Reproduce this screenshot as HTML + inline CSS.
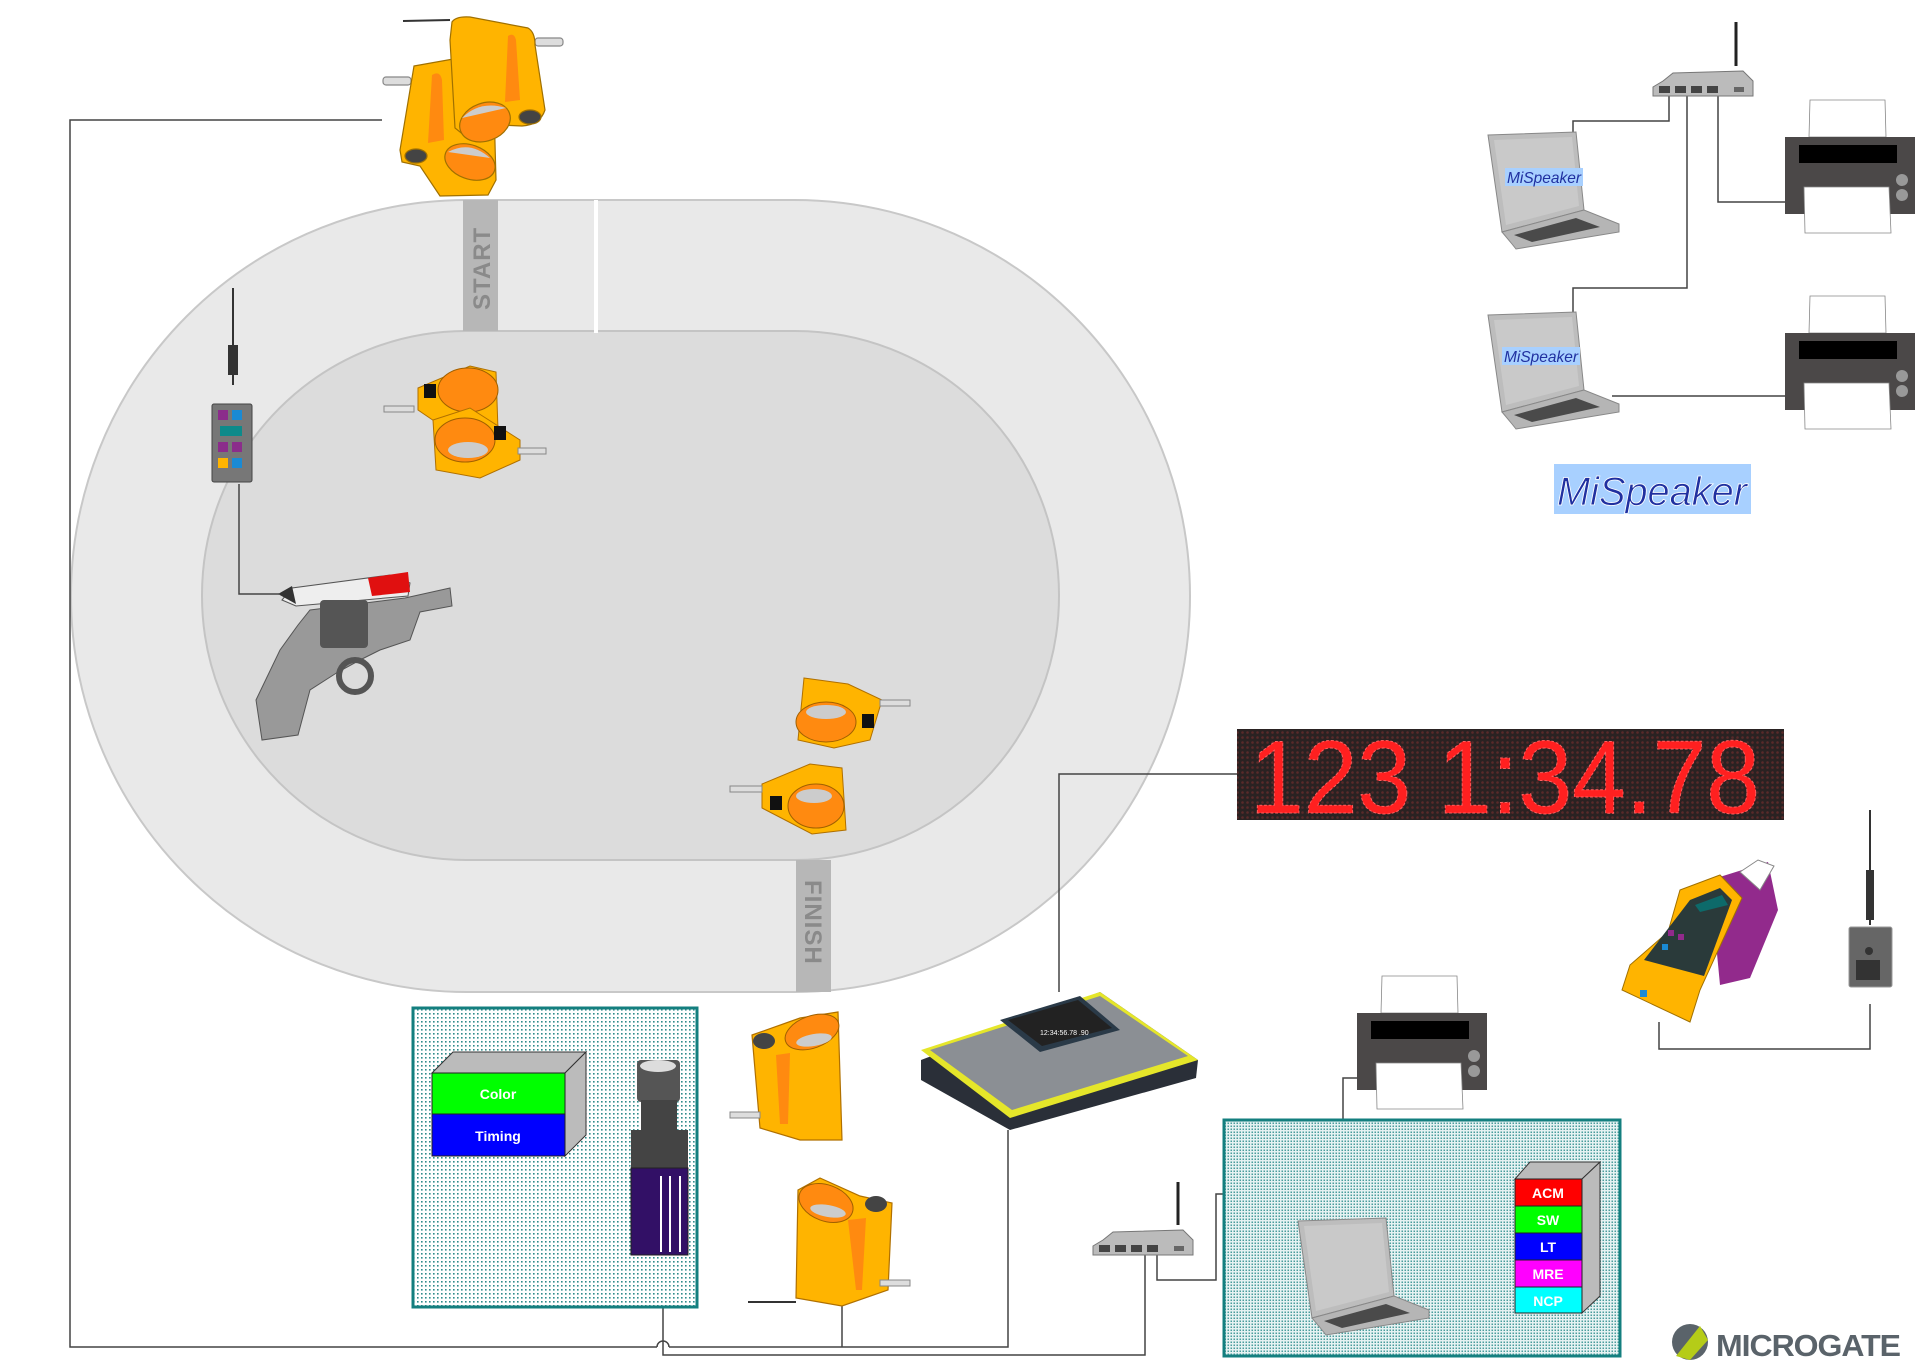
<!DOCTYPE html>
<html><head><meta charset="utf-8"><style>
html,body{margin:0;padding:0;background:#fff;}
svg{display:block;}
text{font-family:"Liberation Sans",sans-serif;}
</style></head><body>
<svg width="1920" height="1363" viewBox="0 0 1920 1363" xmlns="http://www.w3.org/2000/svg">
<defs>
<pattern id="dots" width="4" height="4" patternUnits="userSpaceOnUse">
<rect width="4" height="4" fill="#fff"/><rect x="1" y="1" width="1.6" height="1.6" fill="#2e8b8b"/>
</pattern>
<pattern id="dots2" width="3" height="3" patternUnits="userSpaceOnUse">
<rect width="3" height="3" fill="#e6f2f2"/><rect x="0.5" y="0.5" width="1.5" height="1.5" fill="#4a9c9c"/>
</pattern>
<pattern id="led" width="5" height="5" patternUnits="userSpaceOnUse">
<rect width="5" height="5" fill="#2a2222"/><circle cx="2.5" cy="2.5" r="1.3" fill="#5a2a2a"/>
</pattern>
<g id="laptop">
<polygon points="0,3 88,0 96,78 14,100" fill="#bdbdbd" stroke="#888" stroke-width="1"/>
<polygon points="6,8 84,5 91,74 18,93" fill="#c9c9c9"/>
<polygon points="14,100 96,78 131,92 131,100 28,117 24,112" fill="#b5b5b5" stroke="#888" stroke-width="1"/>
<polygon points="26,103 88,86 112,95 44,110" fill="#4a4a4a"/>
</g>
<g id="printer">
<polygon points="25,0 100,0 101,37 24,37" fill="#fff" stroke="#888" stroke-width="0.8"/>
<rect x="0" y="37" width="130" height="77" fill="#4b4848"/>
<rect x="14" y="45" width="98" height="18" fill="#000"/>
<polygon points="19,87 104,87 106,133 20,133" fill="#fff" stroke="#888" stroke-width="0.8"/>
<circle cx="117" cy="80" r="6" fill="#999"/><circle cx="117" cy="95" r="6" fill="#999"/>
</g>
<g id="router">
<polygon points="10,16 20,8 90,6 100,16 100,31 0,31 0,22" fill="#bbb" stroke="#777" stroke-width="1"/>
<rect x="6" y="21" width="11" height="7" fill="#444"/><rect x="22" y="21" width="11" height="7" fill="#444"/>
<rect x="38" y="21" width="11" height="7" fill="#444"/><rect x="54" y="21" width="11" height="7" fill="#444"/>
<rect x="81" y="22" width="10" height="5" fill="#666"/>
</g>
</defs>

<!-- track -->
<rect x="71" y="200" width="1119" height="792" rx="396" fill="#e9e9e9" stroke="#c8c8c8" stroke-width="2"/>
<rect x="202" y="331" width="857" height="529" rx="264" fill="#dcdcdc" stroke="#c4c4c4" stroke-width="2"/>
<rect x="463" y="200" width="35" height="131" fill="#b7b7b7"/>
<text transform="translate(490,310) rotate(-90)" font-size="24" font-weight="bold" fill="#8a8a8a" letter-spacing="1">START</text>
<rect x="594" y="200" width="4" height="133" fill="#fff"/>
<rect x="796" y="860" width="35" height="132" fill="#b7b7b7"/>
<text transform="translate(805,880) rotate(90)" font-size="24" font-weight="bold" fill="#8a8a8a" letter-spacing="1">FINISH</text>

<!-- connection lines -->
<g fill="none" stroke="#444" stroke-width="1.5">
<polyline points="382,120 70,120 70,1347 657,1347"/>
<path d="M657,1347 a6,6 0 0 1 12,0"/>
<polyline points="669,1347 1008,1347 1008,1130"/>
<polyline points="663,1255 663,1355 1145,1355 1145,1255"/>
<polyline points="842,1305 842,1347"/>
<polyline points="1237,774 1059,774 1059,992"/>
<polyline points="239,484 239,594 279,594"/>
<polyline points="1157,1255 1157,1280 1216,1280 1216,1194 1316,1194 1316,1218"/>
<polyline points="1343,1218 1343,1078 1357,1078"/>
<polyline points="1659,1022 1659,1049 1870,1049 1870,1004"/>
<polyline points="1669,96 1669,121 1573,121 1573,135"/>
<polyline points="1687,96 1687,288 1573,288 1573,312"/>
<polyline points="1718,96 1718,202 1785,202"/>
<polyline points="1612,396 1785,396"/>
</g>

<!-- top photocells -->
<g stroke="#a07000" stroke-width="1.2">
<line x1="403" y1="21" x2="450" y2="20" stroke="#333" stroke-width="2"/>
<rect x="383" y="77" width="28" height="8" rx="3" fill="#ddd" stroke="#888"/>
<rect x="535" y="38" width="28" height="8" rx="3" fill="#ddd" stroke="#888"/>
<path d="M414,66 L470,56 L493,70 L496,180 L488,195 L440,196 L420,166 L402,162 L400,150 Z" fill="#ffb400"/>
<path d="M432,75 Q440,70 442,80 L444,140 L428,143 Z" fill="#ff8a10" stroke="none"/>
<ellipse cx="416" cy="156" rx="11" ry="7" fill="#444"/>
<ellipse cx="470" cy="162" rx="26" ry="17" fill="#ff8a10" transform="rotate(20 470 162)"/>
<path d="M448,152 Q470,140 490,158" fill="#ccc" stroke="none"/>
<path d="M452,22 Q456,16 470,17 L528,28 Q535,32 535,45 L545,110 Q540,125 522,126 L500,125 L470,140 L455,128 L450,40 Z" fill="#ffb400"/>
<path d="M508,36 Q514,32 516,40 L520,100 L505,102 Z" fill="#ff8a10" stroke="none"/>
<ellipse cx="530" cy="117" rx="11" ry="7" fill="#444"/>
<ellipse cx="485" cy="122" rx="26" ry="19" fill="#ff8a10" transform="rotate(-20 485 122)"/>
<path d="M462,118 Q480,100 506,108" fill="#ccc" stroke="none"/>
</g>

<!-- inner photocells -->
<g>
<polygon points="418,388 470,366 496,372 498,430 462,440 418,410" fill="#ffb400" stroke="#b07000"/>
<ellipse cx="468" cy="390" rx="30" ry="22" fill="#ff8a10" stroke="#a06000"/>
<polygon points="433,420 470,408 520,440 520,460 480,478 436,470" fill="#ffb400" stroke="#b07000"/>
<ellipse cx="465" cy="440" rx="30" ry="22" fill="#ff8a10" stroke="#a06000"/>
<ellipse cx="468" cy="450" rx="20" ry="8" fill="#ccc"/>
<rect x="424" y="384" width="12" height="14" fill="#111"/><rect x="494" y="426" width="12" height="14" fill="#111"/>
<rect x="384" y="406" width="30" height="6" fill="#ddd" stroke="#888"/><rect x="518" y="448" width="28" height="6" fill="#ddd" stroke="#888"/>
</g>
<!-- right inner photocells -->
<g>
<polygon points="804,678 848,684 882,700 870,740 834,748 798,740" fill="#ffb400" stroke="#b07000"/>
<ellipse cx="826" cy="722" rx="30" ry="20" fill="#ff8a10" stroke="#a06000"/>
<ellipse cx="826" cy="712" rx="20" ry="7" fill="#ccc"/>
<rect x="862" y="714" width="12" height="14" fill="#111"/>
<rect x="880" y="700" width="30" height="6" fill="#ddd" stroke="#888"/>
<polygon points="762,784 810,764 842,768 846,830 812,834 762,808" fill="#ffb400" stroke="#b07000"/>
<ellipse cx="816" cy="806" rx="28" ry="22" fill="#ff8a10" stroke="#a06000"/>
<ellipse cx="814" cy="796" rx="18" ry="7" fill="#ccc"/>
<rect x="770" y="796" width="12" height="14" fill="#111"/>
<rect x="730" y="786" width="32" height="6" fill="#ddd" stroke="#888"/>
</g>

<!-- radio transmitter -->
<line x1="233" y1="288" x2="233" y2="385" stroke="#333" stroke-width="2"/>
<rect x="228" y="345" width="10" height="30" fill="#333"/>
<rect x="212" y="404" width="40" height="78" rx="2" fill="#777" stroke="#444"/>
<rect x="218" y="410" width="10" height="10" fill="#8b2d8b"/><rect x="232" y="410" width="10" height="10" fill="#1a8ad4"/>
<rect x="220" y="426" width="22" height="10" fill="#0e8a8a"/>
<rect x="218" y="442" width="10" height="10" fill="#8b2d8b"/><rect x="232" y="442" width="10" height="10" fill="#8b2d8b"/>
<rect x="218" y="458" width="10" height="10" fill="#ffb400"/><rect x="232" y="458" width="10" height="10" fill="#1a8ad4"/>

<!-- gun -->
<g>
<polygon points="282,600 292,588 390,575 410,583 408,596 296,606" fill="#eee" stroke="#555"/>
<polygon points="368,578 408,572 410,592 372,596" fill="#e01010"/>
<polygon points="278,594 292,586 296,604" fill="#333"/>
<polygon points="310,610 405,598 450,588 452,606 420,612 410,640 380,650 360,660 338,672 310,690 298,735 262,740 256,700 280,650 298,625" fill="#999" stroke="#555"/>
<rect x="320" y="600" width="48" height="48" rx="4" fill="#555"/>
<circle cx="355" cy="676" r="16" fill="none" stroke="#555" stroke-width="6"/>
</g>

<!-- bottom photocells -->
<g>
<polygon points="752,1035 800,1018 838,1012 842,1140 800,1140 760,1128" fill="#ffb400" stroke="#b07000" stroke-width="1.2"/>
<ellipse cx="812" cy="1032" rx="28" ry="16" fill="#ff8a10" stroke="#a06000" transform="rotate(-20 812 1032)"/>
<ellipse cx="814" cy="1040" rx="18" ry="6" fill="#ccc" transform="rotate(-10 814 1040)"/>
<ellipse cx="764" cy="1041" rx="11" ry="8" fill="#444"/>
<path d="M776,1055 L790,1053 L788,1124 L780,1124 Z" fill="#ff8a10"/>
<rect x="730" y="1112" width="30" height="6" fill="#ddd" stroke="#888"/>
<polygon points="798,1190 820,1178 860,1196 892,1203 888,1290 842,1306 796,1298" fill="#ffb400" stroke="#b07000" stroke-width="1.2"/>
<ellipse cx="826" cy="1203" rx="28" ry="18" fill="#ff8a10" stroke="#a06000" transform="rotate(20 826 1203)"/>
<ellipse cx="828" cy="1211" rx="18" ry="6" fill="#ccc" transform="rotate(10 828 1211)"/>
<ellipse cx="876" cy="1204" rx="11" ry="8" fill="#444"/>
<path d="M848,1220 L866,1218 L862,1290 L856,1290 Z" fill="#ff8a10"/>
<rect x="880" y="1280" width="30" height="6" fill="#ddd" stroke="#888"/>
<line x1="748" y1="1302" x2="796" y2="1302" stroke="#333" stroke-width="2"/>
</g>

<!-- camera box -->
<rect x="413" y="1008" width="284" height="299" fill="url(#dots)" stroke="#147f7f" stroke-width="3"/>
<polygon points="432,1073 453,1052 586,1052 565,1073" fill="#bbb" stroke="#333"/>
<polygon points="565,1073 586,1052 586,1135 565,1156" fill="#bbb" stroke="#333"/>
<rect x="432" y="1073" width="133" height="41" fill="#00ff00" stroke="#222"/>
<rect x="432" y="1114" width="133" height="42" fill="#0000ff" stroke="#222"/>
<text x="498" y="1099" font-size="14" font-weight="bold" fill="#fff" text-anchor="middle">Color</text>
<text x="498" y="1141" font-size="14" font-weight="bold" fill="#fff" text-anchor="middle">Timing</text>
<rect x="637" y="1060" width="43" height="42" rx="4" fill="#555"/>
<ellipse cx="658" cy="1066" rx="18" ry="6" fill="#ddd"/>
<rect x="641" y="1100" width="36" height="40" fill="#444"/>
<rect x="631" y="1130" width="57" height="38" fill="#444"/>
<rect x="631" y="1168" width="57" height="87" fill="#321066" stroke="#222"/>
<line x1="661" y1="1176" x2="661" y2="1252" stroke="#fff" stroke-width="2"/>
<line x1="670" y1="1176" x2="670" y2="1252" stroke="#fff" stroke-width="2"/>
<line x1="680" y1="1176" x2="680" y2="1252" stroke="#fff" stroke-width="2"/>

<!-- console -->
<g>
<polygon points="921,1060 1100,992 1198,1060 1196,1078 1010,1130 921,1080" fill="#2a2f38"/>
<polygon points="921,1050 1100,992 1198,1060 1010,1118" fill="#e5e62a"/>
<polygon points="930,1050 1100,996 1188,1056 1012,1110" fill="#8b8f94"/>
<polygon points="1000,1020 1080,996 1120,1030 1040,1052" fill="#2a3a48"/>
<polygon points="1008,1020 1078,1000 1112,1028 1042,1046" fill="#222"/>
<text x="1040" y="1035" font-size="7" fill="#fff">12:34:56.78 .90</text>
</g>

<!-- display -->
<rect x="1237" y="729" width="547" height="91" fill="url(#led)"/>
<text x="1250" y="813" font-size="104" fill="#ff2020" font-family="Liberation Sans Narrow, Liberation Sans, sans-serif" textLength="510" lengthAdjust="spacingAndGlyphs" stroke="#ff6060" stroke-width="1" stroke-dasharray="3 2">123  1:34.78</text>

<!-- handheld -->
<g>
<polygon points="1710,880 1768,862 1778,910 1750,978 1720,985" fill="#922a8c"/>
<polygon points="1740,872 1758,860 1774,866 1760,890" fill="#fff" stroke="#888"/>
<polygon points="1680,890 1720,875 1742,898 1700,990 1690,1022 1622,990 1630,965 1668,932" fill="#ffb400" stroke="#a07000"/>
<polygon points="1690,900 1720,888 1732,900 1704,976 1644,960" fill="#2a3a3a"/>
<polygon points="1695,905 1722,895 1728,905 1700,912" fill="#0d6a6a"/>
<rect x="1668" y="930" width="6" height="6" fill="#922a8c"/><rect x="1678" y="934" width="6" height="6" fill="#922a8c"/>
<rect x="1662" y="944" width="6" height="6" fill="#1a8ad4"/><rect x="1640" y="990" width="7" height="7" fill="#1a8ad4"/>
</g>
<line x1="1870" y1="810" x2="1870" y2="925" stroke="#333" stroke-width="2"/>
<rect x="1866" y="870" width="8" height="50" fill="#333"/>
<rect x="1849" y="927" width="43" height="60" rx="2" fill="#666" stroke="#999"/>
<rect x="1856" y="960" width="24" height="20" fill="#333"/>
<circle cx="1869" cy="951" r="4" fill="#333"/>

<!-- printer bottom + software box -->
<use href="#printer" x="1357" y="976"/>
<rect x="1224" y="1120" width="396" height="236" fill="url(#dots2)" stroke="#147f7f" stroke-width="3"/>
<use href="#laptop" x="1298" y="1218"/>
<polygon points="1515,1179 1530,1162 1600,1162 1582,1179" fill="#bbb" stroke="#333"/>
<polygon points="1582,1179 1600,1162 1600,1296 1582,1313" fill="#bbb" stroke="#333"/>
<rect x="1515" y="1179" width="67" height="27" fill="#ff0000" stroke="#222"/>
<rect x="1515" y="1206" width="67" height="27" fill="#00ff00" stroke="#222"/>
<rect x="1515" y="1233" width="67" height="27" fill="#0000ff" stroke="#222"/>
<rect x="1515" y="1260" width="67" height="27" fill="#ff00ff" stroke="#222"/>
<rect x="1515" y="1287" width="67" height="26" fill="#00ffff" stroke="#222"/>
<g font-size="14" font-weight="bold" fill="#fff" text-anchor="middle">
<text x="1548" y="1198">ACM</text><text x="1548" y="1225">SW</text><text x="1548" y="1252">LT</text><text x="1548" y="1279">MRE</text><text x="1548" y="1306">NCP</text>
</g>
<use href="#router" x="1093" y="1224"/>
<line x1="1178" y1="1182" x2="1178" y2="1225" stroke="#222" stroke-width="3"/>

<!-- top right network -->
<use href="#router" x="1653" y="65"/>
<line x1="1736" y1="22" x2="1736" y2="66" stroke="#222" stroke-width="3"/>
<use href="#laptop" x="1488" y="132"/>
<use href="#laptop" x="1488" y="312"/>
<rect x="1505" y="168" width="78" height="18" fill="#a8d0ff"/>
<text x="1507" y="183" font-size="16" font-style="italic" fill="#2030a0" textLength="74" lengthAdjust="spacingAndGlyphs">MiSpeaker</text>
<rect x="1502" y="347" width="78" height="18" fill="#a8d0ff"/>
<text x="1504" y="362" font-size="16" font-style="italic" fill="#2030a0" textLength="74" lengthAdjust="spacingAndGlyphs">MiSpeaker</text>
<use href="#printer" x="1785" y="100"/>
<use href="#printer" x="1785" y="296"/>
<rect x="1554" y="464" width="197" height="50" fill="#a8d0ff"/>
<text x="1557" y="505" font-size="40" font-style="italic" fill="#2030a0" stroke="#fff" stroke-width="0.8" textLength="190" lengthAdjust="spacingAndGlyphs">MiSpeaker</text>

<!-- microgate logo -->
<circle cx="1690" cy="1342" r="18" fill="#5a636a"/>
<path d="M1676,1356 L1700,1326 L1708,1340 L1690,1360 Z" fill="#b5cc18"/>
<text x="1716" y="1356" font-size="31" font-weight="bold" fill="#5a636a" letter-spacing="-1" textLength="184" lengthAdjust="spacingAndGlyphs">MICROGATE</text>
</svg>
</body></html>
